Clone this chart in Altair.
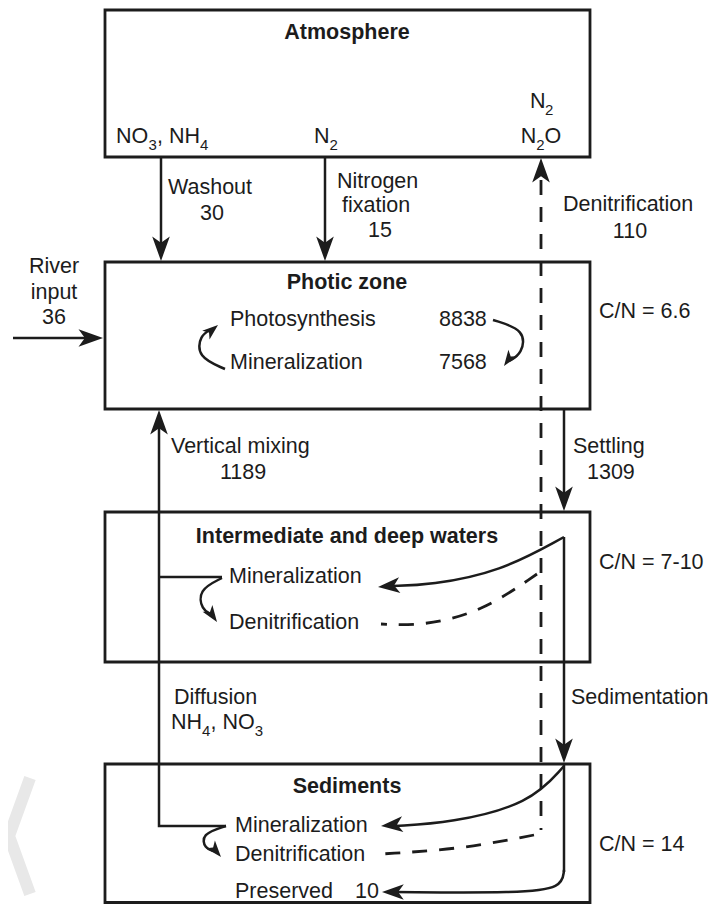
import altair as alt
import pandas as pd

# ---------------- boxes ----------------
box_name = ["Atmosphere", "Photic zone", "Intermediate and deep waters", "Sediments"]
box_left = [105, 105, 105, 105]
box_right = [590, 590, 590, 590]
box_top = [10, 262, 512, 764]
box_bottom = [157, 409, 662, 902.5]

# ---------------- straight solid lines ----------------
straight_id = ["wash", "wash", "fix", "fix", "river", "river",
               "mix", "mix", "mix", "mixint", "mixint",
               "settle", "settle", "sedim", "sedim", "sedbot", "sedbot"]
straight_x = [161, 161, 325, 325, 13, 92,
              226, 159, 159, 159, 222,
              564, 564, 564, 564, 564, 564]
straight_y = [157, 250, 157, 250, 338, 338,
              826, 826, 420, 577, 577,
              409, 500, 537, 752, 764, 872]

# ---------------- curved solid arrows ----------------
curve_id = ["pl", "pl", "pl", "pl", "pr", "pr", "pr", "pr",
            "im", "im", "im", "im", "is", "is", "is", "is",
            "sm", "sm", "sm", "sm", "ss", "ss", "ss", "ss",
            "pv", "pv", "pv", "pv"]
curve_x = [225, 197, 200, 212, 493, 526, 522, 509,
           564, 500, 430, 392, 222, 198, 202, 211,
           564, 530, 450, 395, 226, 201, 205, 214,
           564, 562, 520, 395]
curve_y = [369, 357, 335, 329, 320, 330, 354, 361,
           537, 572, 585, 586, 578, 590, 610, 614,
           766, 804, 823, 826, 826, 834, 849, 851,
           870, 888, 893, 892]

# ---------------- dashed lines ----------------
dash_id = ["dv", "dv", "di", "di", "di", "di", "ds", "ds", "ds"]
dash_x = [541, 541, 537, 482, 422, 381, 534, 462, 381]
dash_y = [180, 830, 574, 612, 626, 624, 835, 849, 854]

# ---------------- arrowheads (tip position, direction in degrees) ----------------
head_x = [161, 325, 541, 103, 159, 564, 564, 218, 504, 378, 217, 381, 221, 382]
head_y = [261, 261, 158, 338, 410, 511, 763, 325, 366, 587, 622, 826, 857, 892]
head_angle = [180, 180, 0, 90, 0, 180, 180, 50, 215, 265, 145, 265, 140, 270]
head_size = [2400, 2400, 2400, 2400, 2400, 2400, 2400, 1000, 1000, 1900, 1100, 1900, 1100, 1900]

# ---------------- texts ----------------
title_text = ["Atmosphere", "Photic zone", "Intermediate and deep waters", "Sediments"]
title_x = [347, 347, 347, 347]
title_y = [33, 283, 537, 787]

# left-aligned pieces (subscripts are separate, smaller, lowered pieces)
left_text = ["NO", "3", ", NH", "4",
             "N", "2", "N", "2", "N", "2", "O",
             "Washout", "Nitrogen", "fixation", "Denitrification",
             "Photosynthesis", "8838", "Mineralization", "7568", "C/N = 6.6",
             "Vertical mixing", "Settling", "1309",
             "Mineralization", "Denitrification", "C/N = 7-10",
             "Diffusion", "NH", "4", ", NO", "3", "Sedimentation",
             "Mineralization", "Denitrification", "Preserved", "10", "C/N = 14"]
left_x = [116, 148.5, 157, 200,
          314, 329.6, 530, 545, 520.7, 536.2, 544.5,
          168, 337, 342, 563,
          230, 439, 230, 439, 599,
          171, 573, 587,
          229, 229, 599,
          174, 171, 202, 210.5, 254.7, 571,
          235, 235, 235, 355, 599]
left_y = [137, 145, 137, 145,
          137, 145, 102, 110, 137, 145, 137,
          188, 182, 206, 205,
          320, 320, 363, 363, 312,
          447, 447, 473,
          577, 623, 563,
          698, 723, 731, 723, 731, 698,
          826, 855, 892, 892, 845]
left_size = [21.5, 15, 21.5, 15,
             21.5, 15, 21.5, 15, 21.5, 15, 21.5,
             21.5, 21.5, 21.5, 21.5,
             21.5, 21.5, 21.5, 21.5, 21.5,
             21.5, 21.5, 21.5,
             21.5, 21.5, 21.5,
             21.5, 21.5, 15, 21.5, 15, 21.5,
             21.5, 21.5, 21.5, 21.5, 21.5]

center_text = ["30", "15", "110", "River", "input", "36", "1189"]
center_x = [212, 380, 630, 54, 54, 54, 243]
center_y = [214, 231, 232, 267, 293, 318, 473]

# faint watermark chevron at lower left
mark_x = [30, 9, 30]
mark_y = [778, 836, 894]

# ---------------- build ----------------
FONT = "Liberation Sans"
FS = 21.5
INK = "#1c1c1c"
xs = alt.Scale(domain=[8, 710], nice=False, zero=False)
ys = alt.Scale(domain=[8, 904], nice=False, zero=False, reverse=True)
X = lambda f: alt.X(f, scale=xs, axis=None)
Y = lambda f: alt.Y(f, scale=ys, axis=None)

boxes = pd.DataFrame({"name": box_name, "x1": box_left, "x2": box_right,
                      "y1": box_top, "y2": box_bottom})
rects = alt.Chart(boxes).mark_rect(fillOpacity=0, stroke=INK, strokeWidth=2.8).encode(
    x=X("x1:Q"), x2="x2:Q", y=Y("y1:Q"), y2="y2:Q")


def path_df(ids, xv, yv):
    return pd.DataFrame({"id": ids, "x": xv, "y": yv, "o": list(range(len(ids)))})


wm = alt.Chart(path_df(["w"] * 3, mark_x, mark_y)).mark_line(
    color="#e8e8e8", strokeWidth=12).encode(x=X("x:Q"), y=Y("y:Q"), order="o:Q")

straight = alt.Chart(path_df(straight_id, straight_x, straight_y)).mark_line(
    color=INK, strokeWidth=2.5).encode(
    x=X("x:Q"), y=Y("y:Q"), detail="id:N", order="o:Q")

curves = alt.Chart(path_df(curve_id, curve_x, curve_y)).mark_line(
    color=INK, strokeWidth=2.5, interpolate="basis").encode(
    x=X("x:Q"), y=Y("y:Q"), detail="id:N", order="o:Q")

dashed = alt.Chart(path_df(dash_id, dash_x, dash_y)).mark_line(
    color=INK, strokeWidth=2.8, interpolate="basis", strokeDash=[15, 12]).encode(
    x=X("x:Q"), y=Y("y:Q"), detail="id:N", order="o:Q")

ARROW = "M0,0 L0.36,1 L0,0.74 L-0.36,1 Z"
heads = alt.Chart(pd.DataFrame({"x": head_x, "y": head_y, "a": head_angle, "s": head_size})).mark_point(
    shape=ARROW, filled=True, opacity=1, color=INK, strokeWidth=0).encode(
    x=X("x:Q"), y=Y("y:Q"), angle=alt.Angle("a:Q", scale=None), size=alt.Size("s:Q", scale=None))

titles = alt.Chart(pd.DataFrame({"t": title_text, "x": title_x, "y": title_y})).mark_text(
    font=FONT, fontSize=FS, fontWeight="bold", align="center", baseline="middle", color=INK).encode(
    x=X("x:Q"), y=Y("y:Q"), text="t:N")

lefts = alt.Chart(pd.DataFrame({"t": left_text, "x": left_x, "y": left_y, "s": left_size})).mark_text(
    font=FONT, align="left", baseline="middle", color=INK).encode(
    x=X("x:Q"), y=Y("y:Q"), text="t:N", size=alt.Size("s:Q", scale=None))

centers = alt.Chart(pd.DataFrame({"t": center_text, "x": center_x, "y": center_y})).mark_text(
    font=FONT, fontSize=FS, align="center", baseline="middle", color=INK).encode(
    x=X("x:Q"), y=Y("y:Q"), text="t:N")

chart = alt.layer(wm, rects, straight, curves, dashed, heads, titles, lefts, centers).properties(
    width=702, height=896, autosize="none", padding=0, background="white"
).configure_view(stroke=None)

chart.save("out.html", embed_options={"renderer": "svg", "actions": False})
